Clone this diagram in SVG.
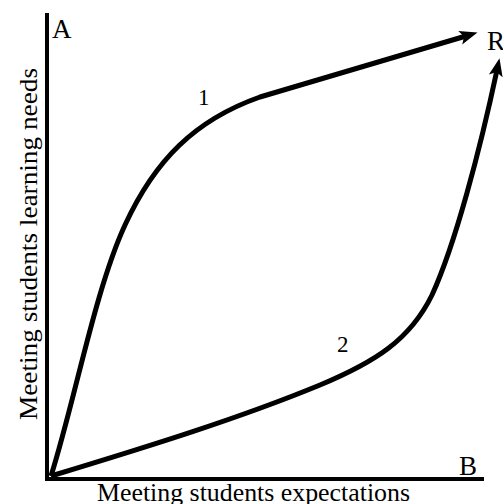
<svg xmlns="http://www.w3.org/2000/svg" width="503" height="504" viewBox="0 0 503 504">
<style>
.t{font-family:"Liberation Serif","Times New Roman",serif;fill:#000}
.axis{stroke:#000;stroke-width:4;fill:none}
.curve{stroke:#000;stroke-width:5;fill:none;stroke-linejoin:round}
</style>
<defs>
<marker id="ah" markerUnits="userSpaceOnUse" markerWidth="20" markerHeight="16" viewBox="0 0 20 16" refX="6" refY="8" orient="auto">
<path d="M0,1 L18,8 L0,15 L4,8 z" fill="#000"/>
</marker>
</defs>
<rect width="503" height="504" fill="#fff"/>
<g id="axes">
<line class="axis" x1="47" y1="13" x2="47" y2="481"/>
<line class="axis" x1="45" y1="479" x2="484" y2="479"/>
</g>
<g id="connectors">
<path id="curve1" class="curve" marker-end="url(#ah)" d="M51,476 C75,400 95,290 125,225 C155,160 195,120 260,97 L466,36"/>
<path id="curve2" class="curve" marker-end="url(#ah)" d="M51,476 C150,446 240,418 320,385 C375,362 410,340 432,295 C455,245 480,150 497,70"/>
</g>
<g id="node-A"><text class="t" x="52" y="38" font-size="27">A</text></g>
<g id="node-R"><text class="t" x="487" y="50" font-size="27">R</text></g>
<g id="node-B"><text class="t" x="459" y="475" font-size="27">B</text></g>
<g id="label-1"><text class="t" x="198" y="105" font-size="23">1</text></g>
<g id="label-2"><text class="t" x="337" y="352" font-size="23">2</text></g>
<g id="x-label"><text class="t" x="97" y="501" font-size="25" textLength="313" lengthAdjust="spacingAndGlyphs">Meeting students expectations</text></g>
<g id="y-label"><text class="t" transform="translate(37,420) rotate(-90)" x="0" y="0" font-size="26" textLength="352" lengthAdjust="spacingAndGlyphs">Meeting students learning needs</text></g>
</svg>
